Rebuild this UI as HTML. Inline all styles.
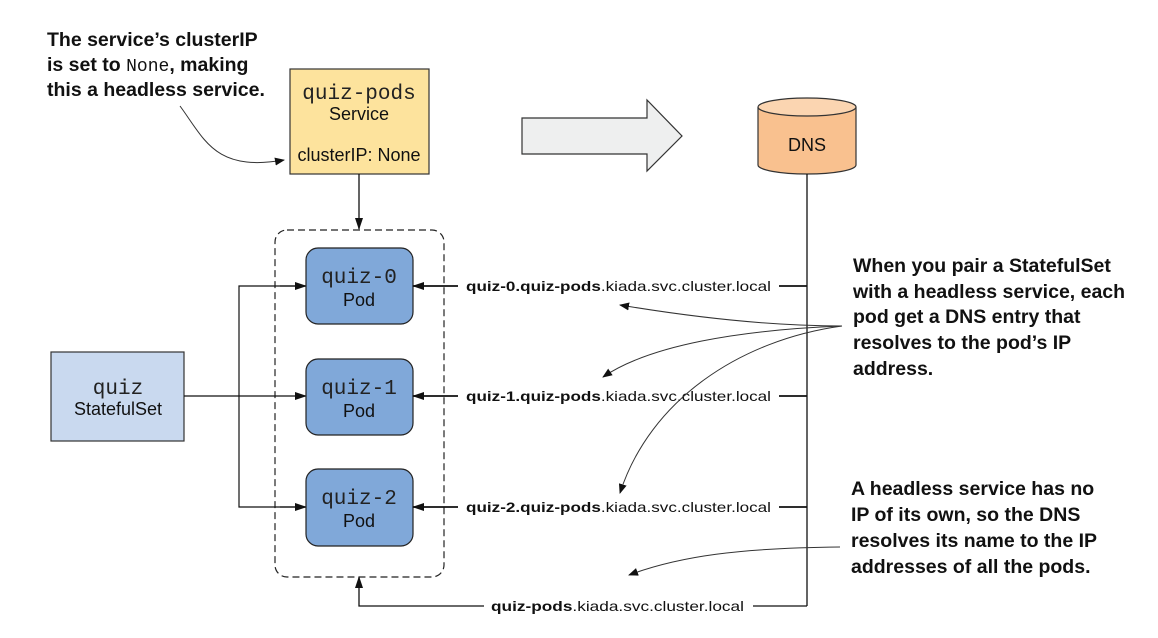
<!DOCTYPE html>
<html><head><meta charset="utf-8"><style>
body{margin:0;background:#fff;}
svg{display:block;}
.a{font-family:"Liberation Sans",Arial,sans-serif;}
.m{font-family:"Liberation Mono","Courier New",monospace;}
.n{font-family:"Liberation Sans",Arial,sans-serif;font-weight:bold;font-size:19.5px;fill:#111;}
</style></head><body>
<svg width="1158" height="638" viewBox="0 0 1158 638" xmlns="http://www.w3.org/2000/svg">
<defs>
<marker id="ah" markerWidth="12" markerHeight="8" refX="11" refY="4" orient="auto" markerUnits="userSpaceOnUse">
<path d="M0,0 L12,4 L0,8 z" fill="#111"/></marker>
<marker id="as" markerWidth="10" markerHeight="8" refX="9" refY="4" orient="auto" markerUnits="userSpaceOnUse">
<path d="M0,0 L10,4 L0,8 z" fill="#111"/></marker>
</defs>

<!-- top-left annotation -->
<text class="n" x="47" y="46">The service’s clusterIP</text>
<text class="n" x="47" y="71">is set to <tspan class="m" style="font-weight:normal;font-size:18px">None</tspan>, making</text>
<text class="n" x="47" y="96">this a headless service.</text>
<path d="M180,106 C205,140 215,172 284,160" fill="none" stroke="#333" stroke-width="1" marker-end="url(#as)"/>

<!-- Service -->
<rect x="290" y="69" width="139" height="105" fill="#fde39d" stroke="#333" stroke-width="1.2"/>
<text class="m" x="359" y="99" font-size="21" text-anchor="middle" fill="#222">quiz-pods</text>
<text class="a" x="359" y="120" font-size="18" text-anchor="middle" fill="#111">Service</text>
<text class="a" x="359" y="161" font-size="18" text-anchor="middle" fill="#111">clusterIP: None</text>
<line x1="359" y1="174" x2="359" y2="229" stroke="#111" stroke-width="1.3" marker-end="url(#ah)"/>

<!-- big arrow -->
<path d="M522,118 L647,118 L647,100 L682,136 L647,171 L647,154 L522,154 z" fill="#eeefef" stroke="#333" stroke-width="1.2"/>

<!-- DNS -->
<path d="M758,107 L758,165 A49,9 0 0 0 856,165 L856,107" fill="#f9c18f" stroke="#333" stroke-width="1.2"/>
<ellipse cx="807" cy="107" rx="49" ry="9" fill="#fbd5b1" stroke="#333" stroke-width="1.2"/>
<text class="a" x="807" y="151" font-size="18" text-anchor="middle" fill="#111">DNS</text>
<line x1="807" y1="174" x2="807" y2="606" stroke="#111" stroke-width="1.3"/>

<!-- dashed group -->
<rect x="275" y="230" width="169" height="347" rx="12" fill="none" stroke="#222" stroke-width="1.2" stroke-dasharray="7,4"/>

<!-- StatefulSet -->
<rect x="51" y="352" width="133" height="89" fill="#c9d9ef" stroke="#333" stroke-width="1.2"/>
<text class="m" x="118" y="394" font-size="21" text-anchor="middle" fill="#222">quiz</text>
<text class="a" x="118" y="415" font-size="18" text-anchor="middle" fill="#111">StatefulSet</text>
<line x1="184" y1="396" x2="306" y2="396" stroke="#111" stroke-width="1.2" marker-end="url(#ah)"/>
<polyline points="306,286 239,286 239,507 306,507" fill="none" stroke="#111" stroke-width="1.2"/>
<line x1="280" y1="286" x2="306" y2="286" stroke="#111" stroke-width="1.2" marker-end="url(#ah)"/>
<line x1="280" y1="507" x2="306" y2="507" stroke="#111" stroke-width="1.2" marker-end="url(#ah)"/>

<!-- Pods -->
<g>
<rect x="306" y="248" width="107" height="76" rx="12" fill="#80a8d9" stroke="#222" stroke-width="1.2"/>
<text class="m" x="359" y="283" font-size="21" text-anchor="middle" fill="#222">quiz-0</text>
<text class="a" x="359" y="306" font-size="18" text-anchor="middle" fill="#111">Pod</text>
<rect x="306" y="359" width="107" height="76" rx="12" fill="#80a8d9" stroke="#222" stroke-width="1.2"/>
<text class="m" x="359" y="394" font-size="21" text-anchor="middle" fill="#222">quiz-1</text>
<text class="a" x="359" y="417" font-size="18" text-anchor="middle" fill="#111">Pod</text>
<rect x="306" y="469" width="107" height="77" rx="12" fill="#80a8d9" stroke="#222" stroke-width="1.2"/>
<text class="m" x="359" y="504" font-size="21" text-anchor="middle" fill="#222">quiz-2</text>
<text class="a" x="359" y="527" font-size="18" text-anchor="middle" fill="#111">Pod</text>
</g>

<!-- DNS entries -->
<g class="a" font-size="14" fill="#111">
<line x1="458" y1="286" x2="413" y2="286" stroke="#111" stroke-width="1.8" marker-end="url(#ah)"/>
<text x="466" y="291" textLength="305" lengthAdjust="spacingAndGlyphs"><tspan font-weight="bold">quiz-0.quiz-pods</tspan>.kiada.svc.cluster.local</text>
<line x1="779" y1="286" x2="807" y2="286" stroke="#111" stroke-width="1.8"/>
<line x1="458" y1="396" x2="413" y2="396" stroke="#111" stroke-width="1.8" marker-end="url(#ah)"/>
<text x="466" y="401" textLength="305" lengthAdjust="spacingAndGlyphs"><tspan font-weight="bold">quiz-1.quiz-pods</tspan>.kiada.svc.cluster.local</text>
<line x1="779" y1="396" x2="807" y2="396" stroke="#111" stroke-width="1.8"/>
<line x1="458" y1="507" x2="413" y2="507" stroke="#111" stroke-width="1.8" marker-end="url(#ah)"/>
<text x="466" y="512" textLength="305" lengthAdjust="spacingAndGlyphs"><tspan font-weight="bold">quiz-2.quiz-pods</tspan>.kiada.svc.cluster.local</text>
<line x1="779" y1="507" x2="807" y2="507" stroke="#111" stroke-width="1.8"/>
<text x="491" y="611" textLength="253" lengthAdjust="spacingAndGlyphs"><tspan font-weight="bold">quiz-pods</tspan>.kiada.svc.cluster.local</text>
<polyline points="807,606 753,606" fill="none" stroke="#111" stroke-width="1.3"/>
<polyline points="484,606 359,606 359,577" fill="none" stroke="#111" stroke-width="1.3" marker-end="url(#ah)"/>
</g>

<!-- right annotations -->
<text class="n" x="853" y="272">When you pair a StatefulSet</text>
<text class="n" x="853" y="298">with a headless service, each</text>
<text class="n" x="853" y="323">pod get a DNS entry that</text>
<text class="n" x="853" y="349">resolves to the pod’s IP</text>
<text class="n" x="853" y="375">address.</text>
<path d="M842,326 C760,326 680,315 620,305" fill="none" stroke="#333" stroke-width="1" marker-end="url(#as)"/>
<path d="M842,326 C740,330 650,345 603,377" fill="none" stroke="#333" stroke-width="1" marker-end="url(#as)"/>
<path d="M842,326 C740,340 650,400 620,493" fill="none" stroke="#333" stroke-width="1" marker-end="url(#as)"/>

<text class="n" x="851" y="495">A headless service has no</text>
<text class="n" x="851" y="521">IP of its own, so the DNS</text>
<text class="n" x="851" y="547">resolves its name to the IP</text>
<text class="n" x="851" y="573">addresses of all the pods.</text>
<path d="M840,547 C740,548 680,556 629,575" fill="none" stroke="#333" stroke-width="1" marker-end="url(#as)"/>
</svg>
</body></html>
